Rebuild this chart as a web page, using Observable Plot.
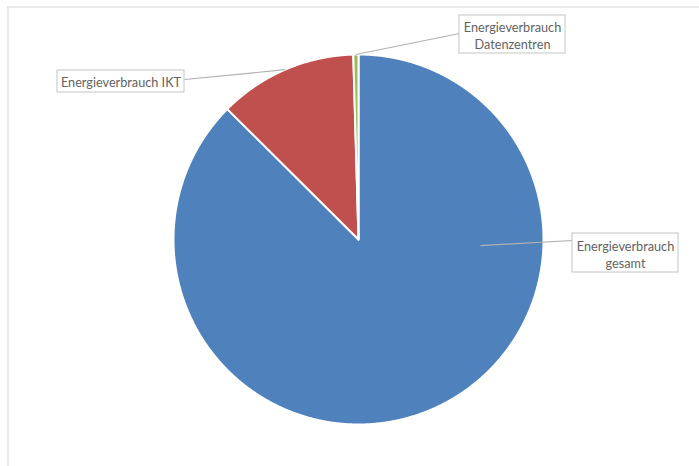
<!DOCTYPE html>
<html>
<head>
<meta charset="utf-8">
<script src="https://cdn.jsdelivr.net/npm/d3@7"></script>
<script src="https://cdn.jsdelivr.net/npm/@observablehq/plot@0.6"></script>
<style>
  html, body { margin: 0; padding: 0; background: #ffffff; }
  #chart svg { display: block; }
</style>
</head>
<body>
<div id="chart"></div>
<script>
// ---- data ----
const categories = ["Energieverbrauch gesamt", "Energieverbrauch IKT", "Energieverbrauch Datenzentren"];
const shares = [87.45, 12.1, 0.45];           // percent of pie
const labelTexts = ["Energieverbrauch\ngesamt", "Energieverbrauch IKT", "Energieverbrauch\nDatenzentren"];

// ---- layout / style ----
const W = 699, H = 466;
const center = {x: 358, y: 239}, R = 185;
const colors = ["#4f81bd", "#c0504d", "#9bbb59"];
// label boxes and leader anchors (anchor: angle within slice as fraction, radius fraction)
const labelLayout = [
  {box: [572, 233, 678, 272], tx: 625, ty: 253.5, attach: [572, 240], anchorT: 0.295, anchorR: 0.66},
  {box: [57, 70, 184, 92],    tx: 120.5, ty: 81.5, attach: [184, 79],  anchorT: 0.5,   anchorR: 1.0},
  {box: [459, 15, 565, 53],   tx: 512, ty: 34.5,   attach: [459, 33],  anchorT: 0.5,   anchorR: 1.0}
];

const pie = d3.pie().sort(null).value(d => d.value)(categories.map((c, i) => ({name: c, value: shares[i]})));

function pt(angle, r) {
  return {x: center.x + r * Math.sin(angle), y: center.y - r * Math.cos(angle)};
}

const sliceMarks = pie.map((s, i) => {
  const pts = [pt(0, 0)];
  const n = Math.max(2, Math.ceil((s.endAngle - s.startAngle) / (Math.PI / 720)));
  for (let k = 0; k <= n; k++) {
    pts.push(pt(s.startAngle + (s.endAngle - s.startAngle) * k / n, R));
  }
  return Plot.line(pts, {x: "x", y: "y", curve: "linear-closed", fill: colors[i], stroke: "#ffffff", strokeWidth: 2, strokeLinejoin: "round"});
});

const leaders = pie.map((s, i) => {
  const L = labelLayout[i];
  const a = s.startAngle + (s.endAngle - s.startAngle) * L.anchorT;
  const p = pt(a, R * L.anchorR);
  return {x1: p.x, y1: p.y, x2: L.attach[0], y2: L.attach[1]};
});

const boxes = labelLayout.map(L => ({x1: L.box[0], y1: L.box[1], x2: L.box[2], y2: L.box[3]}));
const labels = labelLayout.map((L, i) => ({x: L.tx, y: L.ty, text: labelTexts[i]}));

const chart = Plot.plot({
  width: W,
  height: H,
  margin: 0,
  x: {type: "identity", axis: null},
  y: {type: "identity", axis: null},
  style: {fontFamily: "Lato, 'Open Sans', sans-serif", background: "#ffffff"},
  marks: [
    Plot.ruleY([6.5], {x1: 7, x2: W, stroke: "#e3e3e3", strokeWidth: 1.5}),
    Plot.ruleX([7.5], {y1: 6, y2: H, stroke: "#e3e3e3", strokeWidth: 1.5}),
    ...sliceMarks,
    Plot.link(leaders, {x1: "x1", y1: "y1", x2: "x2", y2: "y2", stroke: "#b0b0b0", strokeWidth: 1.2}),
    Plot.rect(boxes, {x1: "x1", y1: "y1", x2: "x2", y2: "y2", fill: "#ffffff", stroke: "#c4c4c4", strokeWidth: 1}),
    Plot.text(labels, {x: "x", y: "y", text: "text", fill: "#636363", fontSize: 12.7, lineHeight: 1.34, textAnchor: "middle", lineAnchor: "middle"})
  ]
});
document.getElementById("chart").appendChild(chart);
</script>
</body>
</html>
